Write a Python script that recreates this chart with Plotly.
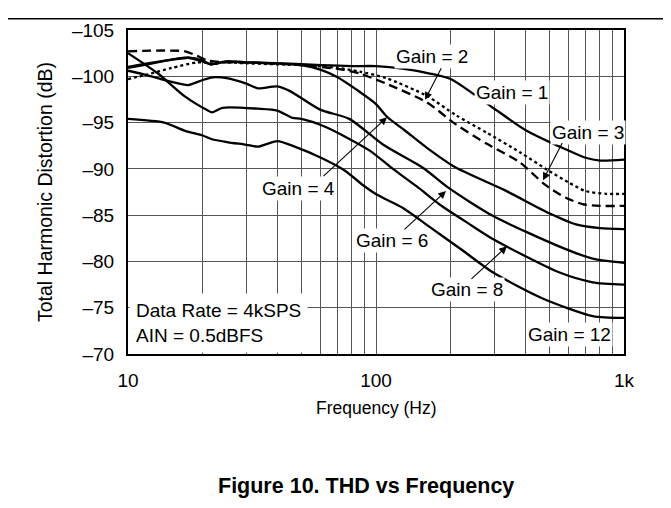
import plotly.graph_objects as go

# ---------------- data ----------------
freq_g1 = [10, 12, 15, 17.5, 20, 21.5, 25, 30, 40, 50, 60, 80, 100, 130, 165, 200, 250, 300, 400, 550, 700, 800, 1000]
thd_g1 = [-101.0, -101.4, -101.8, -102.0, -101.7, -101.3, -101.6, -101.5, -101.4, -101.3, -101.2, -101.1, -101.1, -100.8, -100.3, -99.7, -98.0, -96.5, -94.2, -92.4, -91.2, -90.9, -91.0]

freq_g2 = [10, 12, 15, 19, 22, 25, 30, 50, 70, 86, 110, 160, 210, 280, 380, 490, 600, 700, 850, 1000]
thd_g2 = [-99.7, -100.2, -100.9, -101.5, -101.4, -101.5, -101.4, -101.2, -100.9, -100.5, -99.8, -97.9, -95.8, -93.9, -91.8, -89.9, -88.5, -87.6, -87.3, -87.3]

freq_g3 = [10, 17, 19, 21, 25, 30, 50, 70, 86, 110, 160, 210, 280, 380, 480, 580, 680, 800, 1000]
thd_g3 = [-102.7, -102.7, -102.2, -101.7, -101.5, -101.5, -101.2, -100.8, -100.3, -99.2, -97.2, -94.8, -92.7, -90.7, -88.3, -86.9, -86.2, -86.0, -86.0]

freq_g4 = [10, 12, 15, 17.5, 20, 21.5, 25, 30, 40, 50, 60, 70, 84, 100, 111, 130, 160, 208, 330, 500, 640, 800, 1000]
thd_g4 = [-100.9, -101.3, -101.8, -102.0, -101.6, -101.3, -101.6, -101.5, -101.4, -101.2, -100.7, -99.9, -98.5, -97.0, -95.6, -94.2, -92.3, -90.2, -87.7, -85.2, -84.0, -83.6, -83.5]

freq_g6 = [10, 12, 15, 17.5, 20, 22.4, 25, 30, 33.4, 40, 45, 59.5, 78, 107, 155, 195, 297, 550, 748, 1000]
thd_g6 = [-100.6, -100.1, -99.4, -99.05, -99.6, -99.9, -99.8, -99.2, -98.7, -98.9, -98.4, -96.4, -95.4, -92.6, -90.1, -88.0, -84.9, -81.6, -80.3, -79.85]

freq_g8 = [10, 13.2, 17, 21, 21.8, 24, 33.4, 40, 46, 50, 63, 94, 117, 146, 186, 230, 297, 550, 748, 1000]
thd_g8 = [-102.5, -100.3, -97.8, -96.3, -96.1, -96.6, -96.5, -96.3, -95.5, -95.4, -94.5, -92.0, -90.0, -88.1, -85.9, -84.3, -82.4, -78.8, -77.75, -77.5]

freq_g12 = [10, 14, 17, 20, 21.8, 25, 30, 33.4, 40, 47, 60, 75, 89, 101, 128, 165, 218, 297, 470, 748, 1000]
thd_g12 = [-95.4, -95.0, -94.1, -93.6, -93.2, -92.9, -92.6, -92.4, -93.0, -92.4, -91.2, -89.8, -88.2, -87.2, -85.8, -83.7, -81.4, -78.8, -76.0, -74.1, -73.9]

series = [
    ("Gain = 1", freq_g1, thd_g1, "solid"),
    ("Gain = 2", freq_g2, thd_g2, "3px,3px"),
    ("Gain = 3", freq_g3, thd_g3, "9px,5px"),
    ("Gain = 4", freq_g4, thd_g4, "solid"),
    ("Gain = 6", freq_g6, thd_g6, "solid"),
    ("Gain = 8", freq_g8, thd_g8, "solid"),
    ("Gain = 12", freq_g12, thd_g12, "solid"),
]

x_major = [10, 100, 1000]
x_major_text = ["10", "100", "1k"]
x_minor = [20, 30, 40, 50, 60, 70, 80, 90, 200, 300, 400, 500, 600, 700, 800, 900]
y_ticks = [-105, -100, -95, -90, -85, -80, -75, -70]
y_ticks_text = ["\u2013105", "\u2013100", "\u201395", "\u201390", "\u201385", "\u201380", "\u201375", "\u201370"]

FONT = "Arial, 'Liberation Sans', Helvetica, sans-serif"

fig = go.Figure()
for name, f, t, dash in series:
    fig.add_trace(go.Scatter(
        x=f, y=t, mode="lines", name=name, showlegend=False,
        line=dict(color="black", width=2.3, dash=dash, shape="spline", smoothing=0.7),
    ))

# the page body adds an 8px offset, so the figure is 8px smaller and margins compensate
fig.update_layout(
    width=663, height=500,
    margin=dict(l=120, r=47, t=12, b=154),
    paper_bgcolor="white", plot_bgcolor="white",
    font=dict(family=FONT, color="black", size=19),
    showlegend=False,
)
fig.update_xaxes(
    type="log", range=[1, 3],
    tickmode="array", tickvals=x_major, ticktext=x_major_text,
    showgrid=True, gridcolor="#555555", gridwidth=1,
    minor=dict(tickmode="array", tickvals=x_minor, showgrid=True, gridcolor="#555555", gridwidth=1, ticks=""),
    showline=True, mirror=True, linecolor="black", linewidth=2,
    ticks="", zeroline=False, ticklabelstandoff=8,
    tickfont=dict(size=19),
)
fig.update_yaxes(
    range=[-70, -105],
    tickmode="array", tickvals=y_ticks, ticktext=y_ticks_text,
    showgrid=True, gridcolor="#555555", gridwidth=1,
    showline=True, mirror=True, linecolor="black", linewidth=2,
    ticks="", zeroline=False, ticklabelstandoff=8,
    tickfont=dict(size=19),
)

# labels (positions: x in log10 units, y in dB)
labels = [
    ("Gain = 2", 2.2258, -102.17),
    ("Gain = 1", 2.548, -98.29),
    ("Gain = 3", 2.855, -93.89),
    ("Gain = 4", 1.6855, -87.92),
    ("Gain = 6", 2.0645, -82.26),
    ("Gain = 8", 2.367, -77.02),
    ("Gain = 12", 2.782, -72.10),
]
for txt, lx, ly in labels:
    fig.add_annotation(x=lx, y=ly, xref="x", yref="y", text=txt, showarrow=False,
                       xanchor="center", yanchor="middle",
                       font=dict(size=19, family=FONT), bgcolor="white", borderpad=1)

arrows = [
    (2.2661, -101.02, 2.1976, -97.455),
    (2.754, -92.95, 2.6734, -88.76),
    (1.7823, -89.07, 2.0444, -95.57),
    (2.1089, -83.31, 2.2823, -87.60),
    (2.379, -77.96, 2.528, -81.63),
]
for tx, ty, hx, hy in arrows:
    fig.add_annotation(x=hx, y=hy, xref="x", yref="y", ax=tx, ay=ty, axref="x", ayref="y",
                       text="", showarrow=True, arrowhead=2, arrowsize=1.4, arrowwidth=1.1,
                       arrowcolor="black")

fig.add_annotation(x=0.002, y=0.097, xref="paper", yref="paper", xanchor="left", yanchor="middle",
                   text="Data Rate = 4kSPS<br>AIN = 0.5dBFS", align="left", showarrow=False,
                   font=dict(size=19, family=FONT), bgcolor="white", borderpad=6)

fig.add_annotation(x=0.5, y=-0.1677, xref="paper", yref="paper", text="Frequency (Hz)",
                   xanchor="center", yanchor="middle",
                   showarrow=False, font=dict(size=17.5, family=FONT))
fig.add_annotation(x=-0.1673, y=0.5, xref="paper", yref="paper", text="Total Harmonic Distortion (dB)",
                   xanchor="center", yanchor="middle",
                   textangle=-90, showarrow=False, font=dict(size=19.5, family=FONT))
fig.add_annotation(x=0.48, y=-0.407, xref="paper", yref="paper", text="<b>Figure 10. THD vs Frequency</b>",
                   xanchor="center", yanchor="middle",
                   showarrow=False, font=dict(size=21.5, family=FONT))

fig.add_shape(type="line", xref="paper", yref="paper", x0=-0.3, x1=1.2, y0=1.035, y1=1.035,
              line=dict(color="black", width=1.5))

fig.write_html("out.html")
